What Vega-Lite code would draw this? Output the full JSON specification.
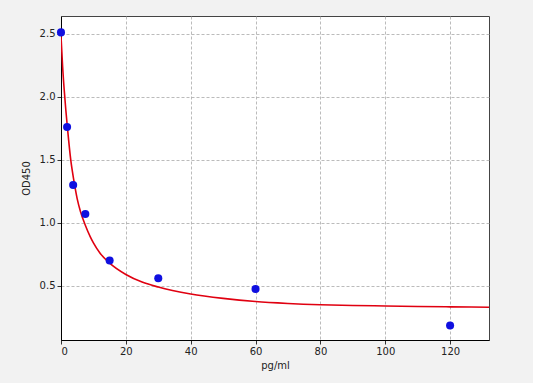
{
  "$schema": "https://vega.github.io/schema/vega-lite/v6.json",
  "width": 428,
  "height": 324,
  "autosize": "none",
  "padding": {"left": 61, "top": 16, "right": 44, "bottom": 43},
  "background": "#f2f2f2",
  "view": {"fill": "white", "stroke": "#444", "strokeWidth": 1},
  "config": {
    "font": "DejaVu Sans",
    "axis": {
      "labelFont": "DejaVu Sans",
      "titleFont": "DejaVu Sans",
      "labelFontSize": 10,
      "titleFontSize": 10,
      "titleFontWeight": "normal",
      "labelColor": "#222",
      "titleColor": "#222",
      "domainColor": "#000",
      "tickColor": "#333",
      "tickSize": 4,
      "gridColor": "#aaaaaa",
      "gridDash": [3, 2],
      "gridWidth": 0.8
    }
  },
  "datasets": {
    "points": [
      {"x": 0, "y": 2.51},
      {"x": 1.875, "y": 1.76},
      {"x": 3.75, "y": 1.30},
      {"x": 7.5, "y": 1.07},
      {"x": 15, "y": 0.70},
      {"x": 30, "y": 0.56},
      {"x": 60, "y": 0.475},
      {"x": 120, "y": 0.185}
    ],
    "curve": [
      {"x": 0, "y": 2.48},
      {"x": 0.25, "y": 2.36},
      {"x": 0.5, "y": 2.24},
      {"x": 1, "y": 2.05},
      {"x": 1.5, "y": 1.89},
      {"x": 2, "y": 1.75},
      {"x": 3, "y": 1.50},
      {"x": 4, "y": 1.33},
      {"x": 5, "y": 1.19},
      {"x": 6, "y": 1.09},
      {"x": 7.5, "y": 0.98},
      {"x": 9, "y": 0.89},
      {"x": 10, "y": 0.84},
      {"x": 12, "y": 0.76},
      {"x": 15, "y": 0.68},
      {"x": 20, "y": 0.59},
      {"x": 25, "y": 0.53},
      {"x": 30, "y": 0.49},
      {"x": 40, "y": 0.435},
      {"x": 50, "y": 0.40},
      {"x": 60, "y": 0.375},
      {"x": 70, "y": 0.36},
      {"x": 80, "y": 0.35},
      {"x": 90, "y": 0.344},
      {"x": 100, "y": 0.34},
      {"x": 110, "y": 0.336},
      {"x": 120, "y": 0.333},
      {"x": 132, "y": 0.33}
    ]
  },
  "layer": [
    {
      "data": {"name": "curve"},
      "mark": {"type": "line", "color": "#e00010", "strokeWidth": 1.6, "interpolate": "monotone", "clip": true},
      "encoding": {
        "x": {"field": "x", "type": "quantitative", "scale": {"domain": [0, 132], "nice": false, "zero": false},
          "axis": {"title": "pg/ml", "values": [0, 20, 40, 60, 80, 100, 120], "format": "d", "titlePadding": 4}},
        "y": {"field": "y", "type": "quantitative", "scale": {"domain": [0.07, 2.64], "nice": false, "zero": false},
          "axis": {"title": "OD450", "values": [0.5, 1.0, 1.5, 2.0, 2.5], "format": ".1f", "titlePadding": 8}}
      }
    },
    {
      "data": {"name": "points"},
      "mark": {"type": "circle", "color": "#1010e0", "size": 65, "opacity": 1, "clip": false},
      "encoding": {
        "x": {"field": "x", "type": "quantitative"},
        "y": {"field": "y", "type": "quantitative"}
      }
    }
  ]
}
